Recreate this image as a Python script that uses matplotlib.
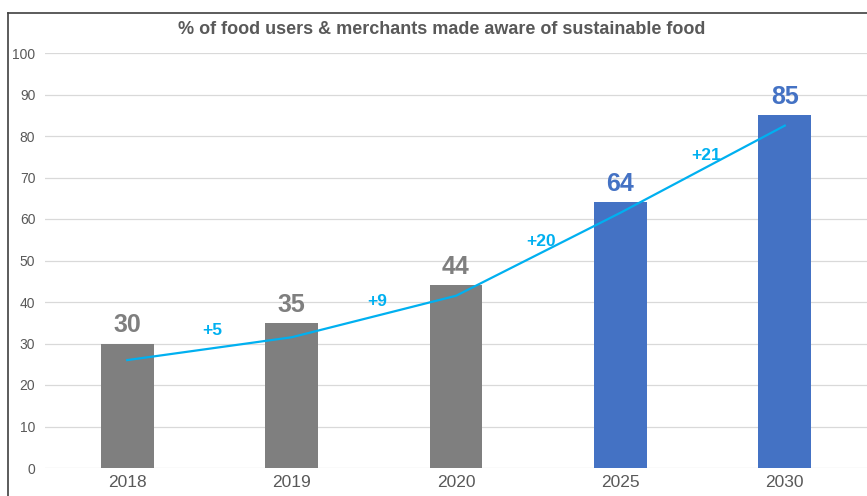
import matplotlib
matplotlib.use("Agg")
import matplotlib.pyplot as plt
from matplotlib.lines import Line2D

years = ["2018", "2019", "2020", "2025", "2030"]
values = [30, 35, 44, 64, 85]
trend = [26, 31.5, 41.5, 61.5, 82.5]
deltas = ["+5", "+9", "+20", "+21"]
delta_y = [33.2, 40.2, 54.5, 75.2]

gray = "#7F7F7F"
blue = "#4472C4"
cyan = "#00B0F0"
text_col = "#595959"

plt.rcParams['font.family'] = ['Liberation Sans', 'DejaVu Sans']

fig = plt.figure(figsize=(8.67, 4.96), dpi=100)
ax = fig.add_axes([45 / 867, 28 / 496, 822 / 867, 415 / 496])

x = list(range(len(years)))
colors = [gray, gray, gray, blue, blue]
ax.bar(x, values, width=0.32, color=colors, zorder=2)

for xi, v, c in zip(x, values, colors):
    ax.text(xi, v + 1.5, str(v), ha="center", va="bottom", fontsize=18,
            fontweight="bold", color=c)

ax.plot(x, trend, color=cyan, lw=1.6, zorder=3)
for i, (d, dy) in enumerate(zip(deltas, delta_y)):
    ax.text(i + 0.52, dy, d, ha="center", va="center", fontsize=12.5,
            fontweight="bold", color=cyan)

ax.set_xlim(-0.5, 4.5)
ax.set_ylim(0, 100)
ax.set_yticks(range(0, 101, 10))
ax.set_xticks(x)
ax.set_xticklabels(years)
ax.yaxis.grid(True, color="#D9D9D9", lw=0.9, zorder=0)
ax.set_axisbelow(True)
for s in ax.spines.values():
    s.set_visible(False)
ax.tick_params(axis="both", length=0, colors=text_col)
ax.tick_params(axis="y", labelsize=10, pad=7)
ax.tick_params(axis="x", labelsize=12.5, pad=5)

fig.text(442 / 867, 1 - 30 / 496, "% of food users & merchants made aware of sustainable food",
         ha="center", va="center", fontsize=13, fontweight="bold", color=text_col)

# outer frame, cut by the image edge
fig.add_artist(Line2D([8 / 867, 8 / 867], [0, 1 - 13 / 496], color="#404040", lw=1.2,
                      transform=fig.transFigure))
fig.add_artist(Line2D([8 / 867, 1], [1 - 13 / 496, 1 - 13 / 496], color="#404040", lw=1.2,
                      transform=fig.transFigure))

fig.savefig("out.png", dpi=100)
